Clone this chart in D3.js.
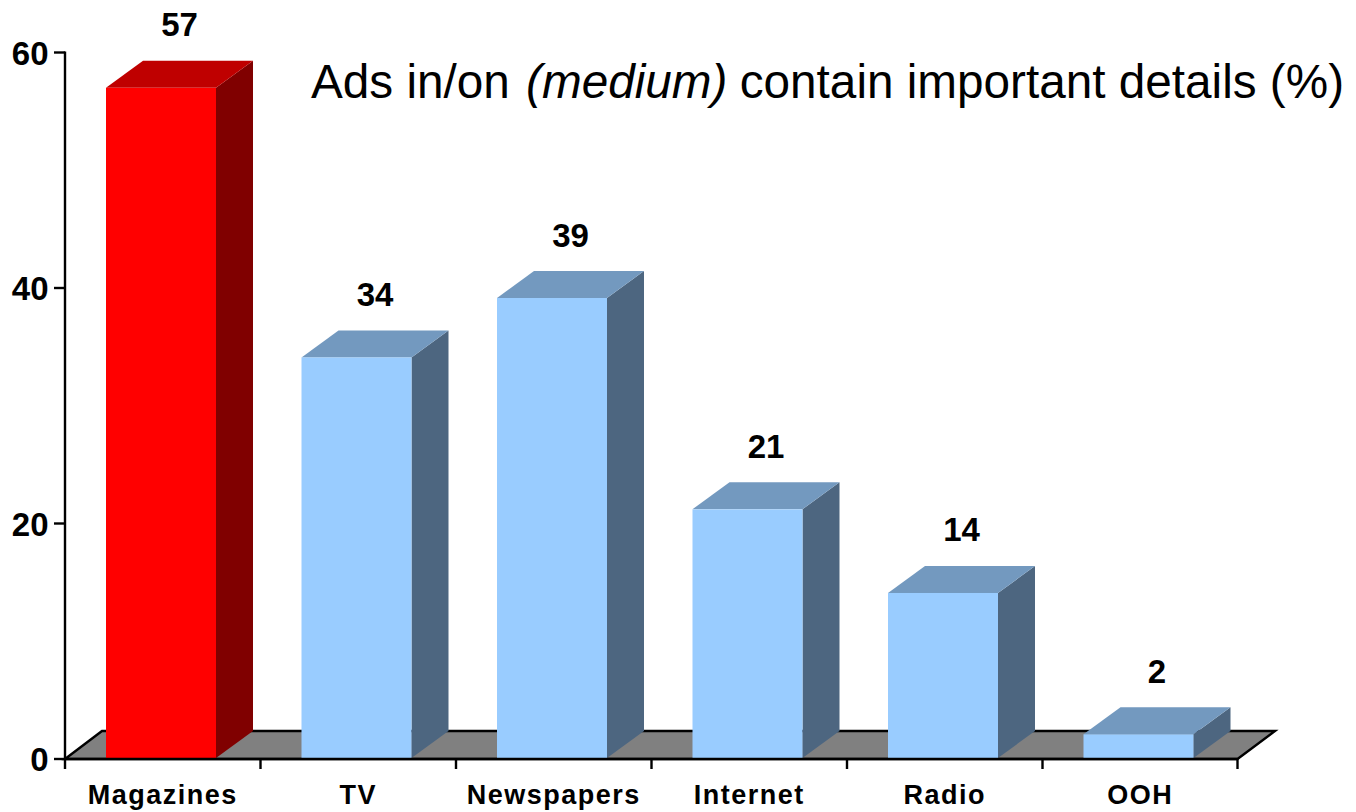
<!DOCTYPE html>
<html><head><meta charset="utf-8">
<script src="https://cdn.jsdelivr.net/npm/d3@7/dist/d3.min.js"></script>
<style>html,body{margin:0;padding:0;background:#fff}svg{display:block}
text{font-family:"Liberation Sans",Arial,sans-serif;fill:#000}</style></head>
<body><svg id="c" width="1356" height="812"></svg>
<script>
const categories=["Magazines","TV","Newspapers","Internet","Radio","OOH"];
const values=[57,34.1,39.15,21.2,14.1,2.1];
const highlighted=["Magazines"];
const yTicks=[0,20,40,60];
const titleParts=[["Ads in/on ",false,0],["(medium)",true,3],[" contain important details (%)",false,-1]];

const svg=d3.select("#c");
const x=d3.scaleBand().domain(categories).range([65,1238]);
const y=d3.scaleLinear().domain([0,60]).range([759,52.5]);
const dx=37,dy=-27;
const barW=110,barOff=41;
const tickEnd=1237.5;

svg.append("path")
 .attr("d",`M65,${y(0)}L102,731L1275,731L${tickEnd},${y(0)}Z`)
 .attr("fill","#808080").attr("stroke","#000").attr("stroke-width",2.4);

const g=svg.selectAll("g.bar").data(categories.map((c,i)=>({c,v:values[i]}))).join("g").attr("class","bar");
const isHi=d=>highlighted.includes(d.c);
g.append("path").attr("fill",d=>isHi(d)?"#800000":"#4d6680")
 .attr("d",d=>{const r=x(d.c)+barOff+barW,t=y(d.v),b=y(0)-1;return `M${r},${t}L${r+dx},${t+dy}L${r+dx},${b+dy}L${r},${b}Z`});
g.append("path").attr("fill",d=>isHi(d)?"#bf0000":"#7399bf")
 .attr("d",d=>{const l=x(d.c)+barOff,t=y(d.v);return `M${l},${t}L${l+dx},${t+dy}L${l+barW+dx},${t+dy}L${l+barW},${t}Z`});
g.append("rect").attr("fill",d=>isHi(d)?"#ff0000":"#99ccff")
 .attr("x",d=>x(d.c)+barOff).attr("y",d=>y(d.v)).attr("width",barW).attr("height",d=>y(0)-y(d.v));
g.append("text").attr("text-anchor","middle").attr("font-weight","bold").attr("font-size",33)
 .attr("x",d=>x(d.c)+barOff+barW/2+18.5).attr("y",d=>y(d.v)+dy-24.5).text(d=>d3.format(".0f")(d.v));

const ax=svg.append("g").attr("stroke","#000").attr("stroke-width",2.4);
ax.append("line").attr("x1",65).attr("x2",65).attr("y1",y(60)-1).attr("y2",y(0)+10);
ax.append("line").attr("x1",65).attr("x2",tickEnd).attr("y1",y(0)).attr("y2",y(0));
ax.selectAll("line.yt").data(yTicks).join("line").attr("class","yt")
 .attr("x1",54).attr("x2",65).attr("y1",d=>y(d)).attr("y2",d=>y(d));
ax.selectAll("line.xt").data(categories).join("line").attr("class","xt")
 .attr("x1",d=>Math.min(x(d)+x.bandwidth(),tickEnd)).attr("x2",d=>Math.min(x(d)+x.bandwidth(),tickEnd)).attr("y1",y(0)).attr("y2",y(0)+10);

svg.selectAll("text.yl").data(yTicks).join("text").attr("class","yl")
 .attr("text-anchor","end").attr("font-weight","bold").attr("font-size",33)
 .attr("x",48.5).attr("y",d=>y(d)+12).text(d=>d);
svg.selectAll("text.xl").data(categories).join("text").attr("class","xl")
 .attr("text-anchor","middle").attr("font-weight","bold").attr("font-size",27).attr("letter-spacing",1.5)
 .attr("x",d=>x(d)+x.bandwidth()/2).attr("y",804).text(d=>d);

const t=svg.append("text").attr("x",311).attr("y",98).attr("font-size",47.7).style("white-space","pre");
t.selectAll("tspan").data(titleParts).join("tspan").attr("dx",d=>d[2]).attr("font-style",d=>d[1]?"italic":"normal").text(d=>d[0]);
</script></body></html>
